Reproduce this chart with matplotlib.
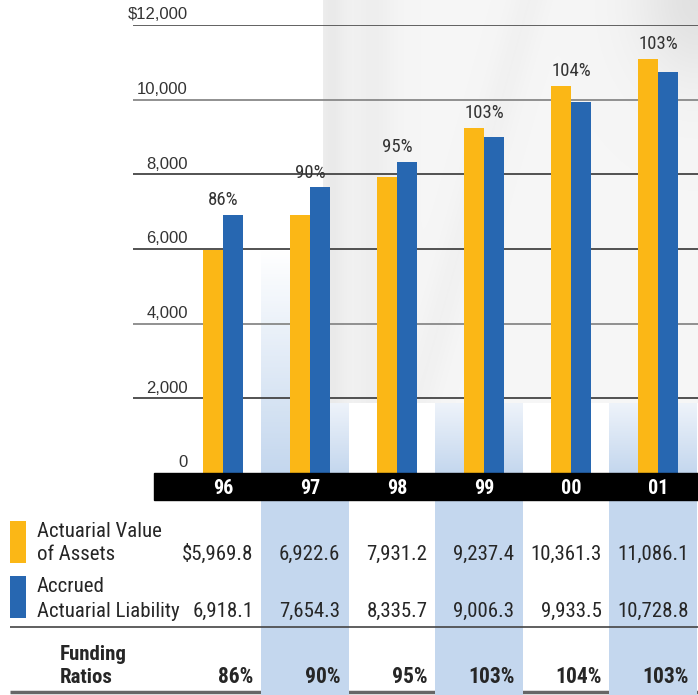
import numpy as np
import matplotlib
matplotlib.use("Agg")
import matplotlib.pyplot as plt
from matplotlib.patches import Rectangle
from matplotlib.colors import LinearSegmentedColormap
import logging
logging.getLogger("matplotlib.font_manager").setLevel(logging.ERROR)

# ---------------- data ----------------
years = ["96", "97", "98", "99", "00", "01"]
assets = [5969.8, 6922.6, 7931.2, 9237.4, 10361.3, 11086.1]
liability = [6918.1, 7654.3, 8335.7, 9006.3, 9933.5, 10728.8]
ratios = [86, 90, 95, 103, 104, 103]
asset_labels = ["$5,969.8", "6,922.6", "7,931.2", "9,237.4", "10,361.3", "11,086.1"]
liab_labels = ["6,918.1", "7,654.3", "8,335.7", "9,006.3", "9,933.5", "10,728.8"]
yticks = [0, 2000, 4000, 6000, 8000, 10000, 12000]
ytick_labels = ["0", "2,000", "4,000", "6,000", "8,000", "10,000", "$12,000"]
shaded_years = ["97", "99", "01"]

ORANGE = "#FBB716"
BLUE = "#2767B1"
LIGHTBLUE = "#C4D7EE"
NARROW = ["Roboto Condensed", "Roboto", "DejaVu Sans"]
REG = ["Liberation Sans", "DejaVu Sans"]
TXT = "#262626"

W, H = 698, 695
fig = plt.figure(figsize=(W / 100, H / 100), dpi=100)
fig.patch.set_facecolor("white")


def fx(px):
    return px / W


def fy(py):
    return 1 - py / H


# ------------- background photo (pixel coords) -------------
bg = fig.add_axes([0, 0, 1, 1], zorder=0)
bg.set_xlim(0, W)
bg.set_ylim(H, 0)
bg.axis("off")
px0, px1, py0, py1 = 323, 698, 0, 403
xs = np.linspace(0, 1, 200)
ys = np.linspace(0, 1, 200)
X, Y = np.meshgrid(xs, ys)
g = 0.965 - 0.045 * np.exp(-((X - 0.02) / 0.04) ** 2) \
    - 0.03 * np.exp(-((X - 0.13) / 0.06) ** 2) \
    - 0.08 * np.exp(-(((X - 1.0) / 0.16) ** 2 + ((Y - 0.0) / 0.2) ** 2)) \
    - 0.02 * np.exp(-((X - 0.55 + 0.3 * Y) / 0.05) ** 2)
img = np.dstack([g, g, g])
bg.imshow(img, extent=(px0, px1, py1, py0), aspect="auto", interpolation="bilinear", zorder=0)

# ------------- chart axes -------------
c0 = 223.0   # pixel center of first group
step = 87.0  # pixel distance between groups
x_left = (133 - c0) / step
x_right = (698 - c0) / step
ax = fig.add_axes([fx(133), fy(473), fx(698) - fx(133), fy(25) - fy(473)], zorder=1)
ax.patch.set_alpha(0)
for s in ax.spines.values():
    s.set_visible(False)
ax.set_xticks([])
ax.set_yticks([])

idx = np.arange(len(years))
ymax = 12000.0
px_per_val = 448.0 / ymax

grad = LinearSegmentedColormap.from_list("g", ["#EEF3FA", LIGHTBLUE])
grad2 = LinearSegmentedColormap.from_list("g2", ["#FFFFFF", LIGHTBLUE])
gimg = np.linspace(0, 1, 100).reshape(-1, 1)
col_top = 70 / px_per_val
for i, yr in enumerate(years):
    if yr in shaded_years:
        ax.imshow(gimg, cmap=grad, extent=(i - 0.563, i + 0.448, 0, col_top),
                  aspect="auto", origin="upper", zorder=0.5)
i97 = years.index("97")
ax.imshow(gimg, cmap=grad2, extent=(i97 - 0.563, (323 - c0) / step, 0, 223 / px_per_val),
          aspect="auto", origin="upper", zorder=0.6)

grid_cols = {2000: "#444444", 4000: "#888888", 6000: "#444444", 8000: "#444444",
             10000: "#888888", 12000: "#555555"}
for v in yticks[1:]:
    ax.axhline(v, color=grid_cols[v], lw=1.3, zorder=1)
for v, lab in zip(yticks, ytick_labels):
    ax.annotate(lab, xy=((188 - c0) / step, v), xytext=(0, 4), textcoords="offset points",
                ha="right", va="baseline", fontsize=12, family=REG, color="#333333",
                zorder=3, annotation_clip=False)

bw = 0.23
ax.bar(idx - bw / 2, assets, width=bw, color=ORANGE, zorder=2, linewidth=0)
ax.bar(idx + bw / 2, liability, width=bw, color=BLUE, zorder=2, linewidth=0)
for i, r in enumerate(ratios):
    top = max(assets[i], liability[i])
    ax.annotate(f"{r}%", xy=(i, top), xytext=(0, 7), textcoords="offset points",
                ha="center", va="baseline", fontsize=13.5, family=NARROW, color="#333333",
                zorder=3)
ax.set_xlim(x_left, x_right)
ax.set_ylim(0, ymax)

# ------------- table axes (pixel y, category x) -------------
tx_left = (0 - c0) / step
tab = fig.add_axes([0, 0, 1, fy(473)], zorder=2)
tab.set_xlim(tx_left, x_right)
tab.set_ylim(H, 473)
tab.axis("off")

tab.add_patch(Rectangle(((154 - c0) / step, 473), x_right - (154 - c0) / step, 27,
                        color="black", zorder=2, clip_on=False))
for i, yr in enumerate(years):
    tab.text(i, 494, yr, ha="center", va="baseline", color="white", fontsize=14.5,
             fontweight="bold", family=NARROW, zorder=3)

tab.plot([(10 - c0) / step, x_right], [692, 692], color="#666666", lw=2.5, zorder=0.5,
         solid_capstyle="butt")
for i, yr in enumerate(years):
    if yr in shaded_years:
        tab.add_patch(Rectangle((i - 0.563, 500), 1.011, 195, color=LIGHTBLUE, zorder=1,
                                linewidth=0))
tab.plot([(10 - c0) / step, x_right], [627, 627], color="#444444", lw=1.2, zorder=2,
         solid_capstyle="butt")

sw_x = (10 - c0) / step
sw_w = 16 / step
tab.add_patch(Rectangle((sw_x, 521), sw_w, 42, color=ORANGE, linewidth=0, zorder=2))
tab.add_patch(Rectangle((sw_x, 576), sw_w, 42, color=BLUE, linewidth=0, zorder=2))
lx = (37 - c0) / step
fs = 15
for yv, s in [(537, "Actuarial Value"), (560, "of Assets"), (592, "Accrued"),
              (617, "Actuarial Liability")]:
    tab.text(lx, yv, s, ha="left", va="baseline", fontsize=fs, family=NARROW,
             color=TXT, zorder=3)
fx_ = (60 - c0) / step
tab.text(fx_, 660, "Funding", ha="left", va="baseline", fontsize=15, family=NARROW,
         fontweight="bold", color=TXT, zorder=3)
tab.text(fx_, 683, "Ratios", ha="left", va="baseline", fontsize=15, family=NARROW,
         fontweight="bold", color=TXT, zorder=3)

for i in range(len(years)):
    rx = i + 0.35
    tab.text(rx, 560, asset_labels[i], ha="right", va="baseline", fontsize=fs, family=NARROW,
             color=TXT, zorder=3)
    tab.text(rx, 617, liab_labels[i], ha="right", va="baseline", fontsize=fs, family=NARROW,
             color=TXT, zorder=3)
    tab.text(rx, 683, f"{ratios[i]}%", ha="right", va="baseline", fontsize=15.5, family=NARROW,
             fontweight="bold", color=TXT, zorder=3)

fig.savefig("out.png", dpi=100)
